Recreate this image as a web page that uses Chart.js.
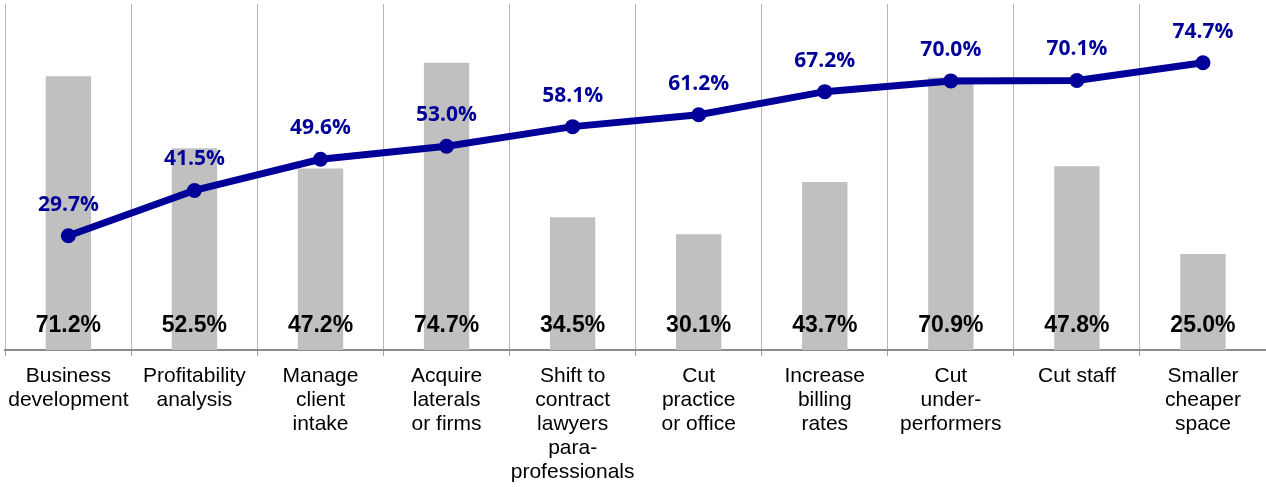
<!DOCTYPE html>
<html>
<head>
<meta charset="utf-8">
<script src="https://cdn.jsdelivr.net/npm/chart.js@4/dist/chart.umd.min.js"></script>
<style>
  html, body { margin: 0; padding: 0; background: #fff; }
  #wrap { width: 1266px; height: 487px; position: relative; }
</style>
</head>
<body>
<div id="wrap"><canvas id="chart"></canvas></div>
<script>
// Cost-cutting and growth actions: share already taken (line) vs. share planned (bars)
const categories = [
  ["Business", "development"],
  ["Profitability", "analysis"],
  ["Manage", "client", "intake"],
  ["Acquire", "laterals", "or firms"],
  ["Shift to", "contract", "lawyers", "para-", "professionals"],
  ["Cut", "practice", "or office"],
  ["Increase", "billing", "rates"],
  ["Cut", "under-", "performers"],
  ["Cut staff"],
  ["Smaller", "cheaper", "space"]
];
const lineValues = [29.7, 41.5, 49.6, 53.0, 58.1, 61.2, 67.2, 70.0, 70.1, 74.7];
const barValues  = [71.2, 52.5, 47.2, 74.7, 34.5, 30.1, 43.7, 70.9, 47.8, 25.0];
const yMin = 0;
const yMax = 90;

const NAVY = '#000099';
const BAR_GREY = '#c0c0c0';

// Writes the value labels: bold black near the base of each bar, navy above each line point
const valueLabels = {
  id: 'valueLabels',
  afterDatasetsDraw(chart) {
    const ctx = chart.ctx;
    const bottom = chart.scales.x.top;
    ctx.save();
    ctx.textAlign = 'center';
    ctx.textBaseline = 'middle';

    const barMeta = chart.getDatasetMeta(1);
    ctx.font = 'bold 23px "Liberation Sans", Arial, sans-serif';
    ctx.fillStyle = '#000';
    barMeta.data.forEach((el, i) => {
      ctx.fillText(barValues[i].toFixed(1) + '%', el.x, bottom - 24);
    });

    const lineMeta = chart.getDatasetMeta(0);
    ctx.font = 'bold 21px "Open Sans", sans-serif';
    ctx.fillStyle = NAVY;
    lineMeta.data.forEach((el, i) => {
      ctx.fillText(lineValues[i].toFixed(1) + '%', el.x, el.y - 31);
    });
    ctx.restore();
  }
};

new Chart(document.getElementById('chart'), {
  data: {
    labels: categories,
    datasets: [
      {
        type: 'line',
        data: lineValues,
        borderColor: NAVY,
        backgroundColor: NAVY,
        borderWidth: 7,
        pointRadius: 7.5,
        pointBackgroundColor: NAVY,
        pointBorderWidth: 0,
        tension: 0,
        order: 0
      },
      {
        type: 'bar',
        data: barValues,
        backgroundColor: BAR_GREY,
        borderWidth: 0,
        categoryPercentage: 1,
        barPercentage: 0.36,
        order: 1
      }
    ]
  },
  options: {
    responsive: true,
    maintainAspectRatio: false,
    animation: false,
    layout: { autoPadding: false, padding: { left: 5, right: 0, top: 4, bottom: 0 } },
    plugins: {
      legend: { display: false },
      tooltip: { enabled: false }
    },
    scales: {
      x: {
        offset: true,
        grid: {
          offset: true,
          color: '#b8b8b8',
          lineWidth: 1,
          drawTicks: true,
          tickLength: 6,
          tickColor: '#a0a0a0'
        },
        border: { display: true, color: '#8c8c8c', width: 2 },
        ticks: {
          color: '#000',
          maxRotation: 0,
          autoSkip: false,
          padding: 8,
          font: { family: '"Liberation Sans", Arial, sans-serif', size: 21, lineHeight: 1.15 }
        },
        afterFit(scale) { scale.height = 137; }
      },
      y: {
        display: false,
        min: yMin,
        max: yMax
      }
    }
  },
  plugins: [valueLabels]
});
</script>
</body>
</html>
